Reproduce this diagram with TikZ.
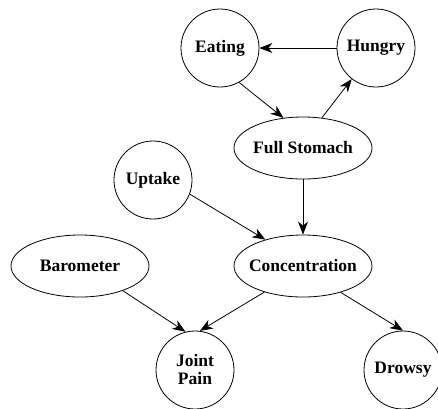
\documentclass[tikz,border=0pt]{standalone}
\usepackage{fontspec}
\setmainfont{Liberation Serif}
\usetikzlibrary{shapes.geometric, arrows.meta, positioning}
\tikzset{
    var/.style={draw=black, line width=0.8pt, align=center, inner sep=0pt, font=\fontsize{17.5}{18}\selectfont\bfseries},
    circ/.style={var, circle, minimum size=78pt},
    oval/.style={var, ellipse, inner xsep=-6pt, minimum width=138pt, minimum height=62pt},
    arr/.style={-{Stealth[length=13pt, width=10pt, inset=4pt]}, line width=0.8pt, black}
}
\begin{document}
\begin{tikzpicture}[x=1pt, y=-1pt]
    \useasboundingbox (0,0) rectangle (438,408);
    \node[circ] (eat) at (220,48) {Eating};
    \node[circ] (hungry) at (376,48) {Hungry};
    \node[oval] (full) at (303,148) {Full Stomach};
    \node[circ] (uptake) at (153,180) {Uptake};
    \node[oval] (conc) at (303,266) {Concentration};
    \node[oval] (baro) at (80,266) {Barometer};
    \node[circ] (joint) at (195,370) {Joint\\Pain};
    \node[circ] (drowsy) at (403,370) {Drowsy};
    \draw[arr] (hungry.180)--(eat.0); \draw[arr] (eat.-61)--(full.123); \draw[arr] (full.58)--(hungry.232);
    \draw[arr] (full.south)--(conc.north); \draw[arr] (uptake.-21)--(conc.145);
    \draw[arr] (conc.214)--(joint.83); \draw[arr] (conc.-35)--(drowsy.90); \draw[arr] (baro.-30)--(joint.104);
\end{tikzpicture}
\end{document}
